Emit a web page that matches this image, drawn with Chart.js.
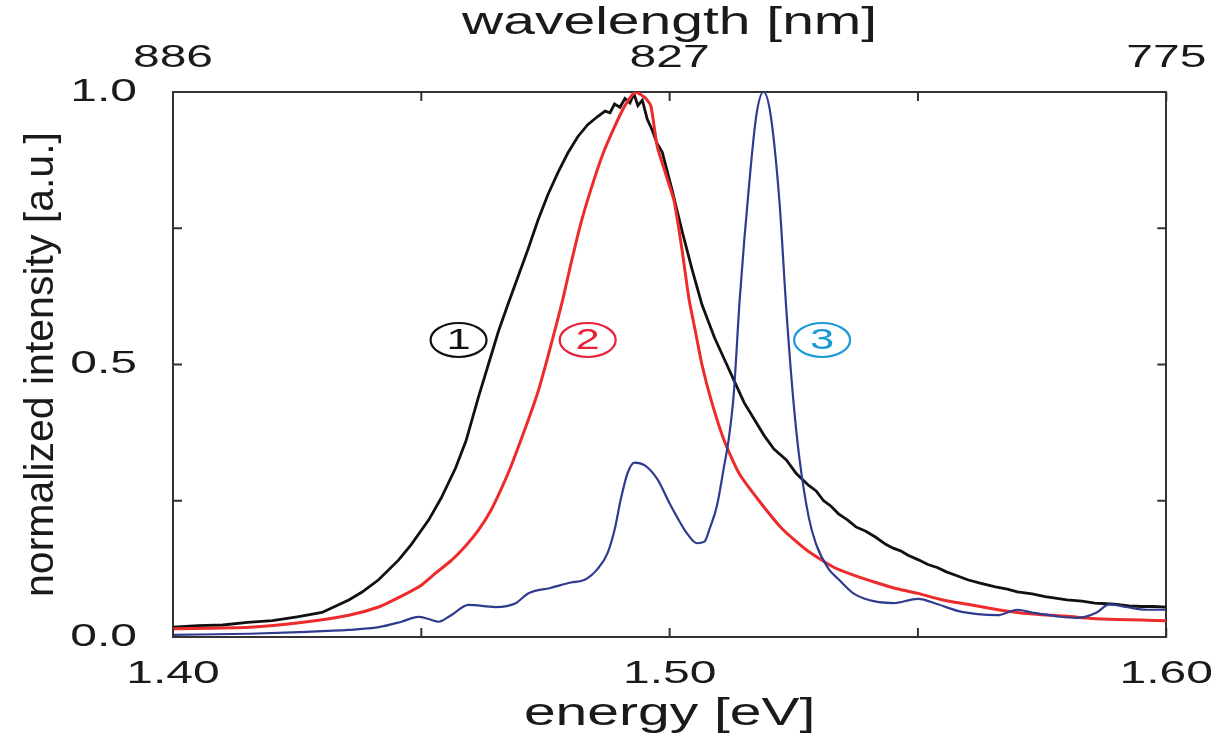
<!DOCTYPE html>
<html>
<head>
<meta charset="utf-8">
<script src="https://cdn.jsdelivr.net/npm/chart.js@4.4.1/dist/chart.umd.min.js"></script>
<style>
  html, body { margin: 0; padding: 0; background: #ffffff; }
  #wrap { width: 1231px; height: 738px; }
</style>
</head>
<body>
<div id="wrap"><canvas id="c" width="1231" height="738"></canvas></div>
<script>
// ---------------- data ----------------
// curve 1 (black)
const energy1 = [1.400,1.405,1.410,1.415,1.420,1.425,1.430,1.4354,1.438,1.4414,1.4454,1.448,1.4515,1.454,1.4569,1.459,1.4615,1.4635,1.4655,1.4675,1.4695,1.4715,1.4735,1.4755,1.4775,1.4795,1.4815,1.4835,1.4855,1.4870,1.4880,1.4889,1.4900,1.4910,1.4920,1.4928,1.4936,1.4945,1.4955,1.4965,1.4975,1.4985,1.5005,1.5025,1.5045,1.5065,1.5090,1.5115,1.5130,1.5150,1.5170,1.5190,1.5210,1.5235,1.5255,1.5280,1.5295,1.5310,1.5325,1.5340,1.5358,1.5375,1.5395,1.5415,1.5435,1.5450,1.5465,1.5480,1.5500,1.5520,1.5540,1.5556,1.5580,1.5600,1.5625,1.5656,1.5680,1.5700,1.5730,1.5756,1.5780,1.5800,1.5830,1.5856,1.5880,1.5900,1.5925,1.5950,1.5975,1.6000];
const intensity1 = [0.018,0.021,0.022,0.027,0.030,0.037,0.045,0.068,0.082,0.105,0.141,0.170,0.215,0.255,0.310,0.360,0.440,0.500,0.560,0.612,0.662,0.712,0.765,0.812,0.852,0.888,0.918,0.940,0.955,0.965,0.962,0.978,0.972,0.988,0.980,0.997,0.975,0.985,0.950,0.930,0.905,0.890,0.820,0.745,0.675,0.610,0.550,0.500,0.470,0.430,0.400,0.370,0.345,0.325,0.300,0.278,0.268,0.250,0.240,0.226,0.215,0.202,0.194,0.183,0.170,0.163,0.158,0.150,0.142,0.133,0.127,0.120,0.112,0.105,0.099,0.092,0.088,0.083,0.079,0.074,0.071,0.068,0.066,0.062,0.061,0.060,0.057,0.056,0.056,0.055];

// curve 2 (red)
const energy2 = [1.400,1.4154,1.4254,1.4354,1.4414,1.4460,1.4500,1.4530,1.4560,1.4590,1.4615,1.4640,1.4660,1.4680,1.4700,1.4720,1.4735,1.4752,1.4769,1.4785,1.4800,1.4820,1.4841,1.4865,1.4889,1.4910,1.4931,1.4950,1.4962,1.4975,1.4992,1.5009,1.5025,1.5039,1.5052,1.5065,1.5085,1.5110,1.5140,1.5180,1.5225,1.5275,1.5330,1.5375,1.5415,1.5460,1.5500,1.5550,1.5600,1.5650,1.5700,1.5750,1.5800,1.5850,1.5900,1.5950,1.6000];
const intensity2 = [0.015,0.018,0.026,0.040,0.055,0.075,0.095,0.118,0.140,0.168,0.196,0.232,0.270,0.312,0.360,0.410,0.450,0.505,0.563,0.620,0.680,0.755,0.820,0.885,0.936,0.975,1.000,0.990,0.975,0.900,0.850,0.800,0.710,0.620,0.560,0.500,0.430,0.360,0.300,0.250,0.200,0.160,0.128,0.112,0.100,0.088,0.080,0.068,0.060,0.052,0.045,0.041,0.038,0.034,0.032,0.031,0.030];

// curve 3 (blue)
const energy3 = [1.400,1.4154,1.4254,1.4354,1.4414,1.4460,1.4494,1.4515,1.4535,1.4560,1.4595,1.4649,1.4690,1.4715,1.4760,1.4801,1.4829,1.4855,1.4875,1.4890,1.4901,1.4915,1.4929,1.4950,1.4975,1.5000,1.5015,1.5035,1.5055,1.5070,1.5081,1.5095,1.5109,1.5120,1.5129,1.5141,1.5161,1.5175,1.5189,1.5203,1.5221,1.5235,1.5249,1.5261,1.5280,1.5295,1.5320,1.5341,1.5370,1.5401,1.5450,1.5500,1.5540,1.5580,1.5620,1.5660,1.5700,1.5730,1.5780,1.5820,1.5860,1.5885,1.5920,1.5960,1.6000];
const intensity3 = [0.004,0.006,0.009,0.013,0.018,0.028,0.037,0.033,0.028,0.040,0.059,0.055,0.062,0.080,0.090,0.100,0.105,0.125,0.154,0.200,0.250,0.300,0.320,0.315,0.290,0.245,0.220,0.190,0.172,0.175,0.200,0.240,0.310,0.370,0.445,0.618,0.840,0.960,1.000,0.960,0.800,0.600,0.435,0.330,0.220,0.170,0.125,0.105,0.080,0.068,0.062,0.070,0.060,0.048,0.042,0.040,0.050,0.045,0.038,0.035,0.045,0.060,0.055,0.050,0.050];

// axis ticks / labels
const energyLabelValues = [1.40, 1.50, 1.60];
const energyLabels = ['1.40', '1.50', '1.60'];
const wavelengthLabels = ['886', '827', '775'];
const intensityLabelValues = [0.0, 0.5, 1.0];
const intensityLabels = ['0.0', '0.5', '1.0'];

// circled curve markers
const markerEnergy = [1.4575, 1.4835, 1.5307];
const markerIntensity = [0.545, 0.545, 0.545];
const markerText = ['1', '2', '3'];
const markerColor = ['#111111', '#e8203a', '#1a9ad6'];

// --------------- text stretch (reference text is horizontally wide) ---------------
const STRETCH = 1.5;
let stretchOn = true;
const canvas = document.getElementById('c');
const ctx2d = canvas.getContext('2d');
const proto = CanvasRenderingContext2D.prototype;
ctx2d.fillText = function (text, x, y) {
  if (!stretchOn) { return proto.fillText.call(this, text, x, y); }
  this.save();
  this.translate(x, y);
  this.scale(STRETCH, 1);
  proto.fillText.call(this, text, 0, 0);
  this.restore();
};
ctx2d.measureText = function (text) {
  const m = proto.measureText.call(this, text);
  if (!stretchOn) { return m; }
  return {
    width: m.width * STRETCH,
    actualBoundingBoxAscent: m.actualBoundingBoxAscent,
    actualBoundingBoxDescent: m.actualBoundingBoxDescent,
    actualBoundingBoxLeft: m.actualBoundingBoxLeft * STRETCH,
    actualBoundingBoxRight: m.actualBoundingBoxRight * STRETCH
  };
};

// --------------- chart ----------------
const FONT = "'Liberation Sans', Arial, sans-serif";
Chart.defaults.font.family = FONT;
Chart.defaults.color = '#1a1a1a';

function toXY(xs, ys) { return xs.map((x, i) => ({ x: x, y: ys[i] })); }
function findLabel(values, labels, v) {
  const i = values.findIndex(e => Math.abs(e - v) < 1e-6);
  return i >= 0 ? labels[i] : '';
}

const innerTicks = {
  id: 'innerTicks',
  afterDatasetsDraw(chart) {
    const ctx = chart.ctx;
    const a = chart.chartArea;
    const len = 9;
    ctx.save();
    ctx.strokeStyle = '#333333';
    ctx.lineWidth = 2;
    ctx.beginPath();
    chart.scales.x.ticks.forEach(t => {
      const px = chart.scales.x.getPixelForValue(t.value);
      ctx.moveTo(px, a.bottom); ctx.lineTo(px, a.bottom - len);
    });
    chart.scales.x2.ticks.forEach(t => {
      const px = chart.scales.x2.getPixelForValue(t.value);
      ctx.moveTo(px, a.top); ctx.lineTo(px, a.top + len);
    });
    chart.scales.y.ticks.forEach(t => {
      const py = chart.scales.y.getPixelForValue(t.value);
      ctx.moveTo(a.left, py); ctx.lineTo(a.left + len, py);
    });
    chart.scales.y2.ticks.forEach(t => {
      const py = chart.scales.y2.getPixelForValue(t.value);
      ctx.moveTo(a.right, py); ctx.lineTo(a.right - len, py);
    });
    ctx.stroke();
    ctx.restore();
  }
};

const markers = {
  id: 'markers',
  afterDatasetsDraw(chart) {
    const ctx = chart.ctx;
    const xs = chart.scales.x, ys = chart.scales.y;
    ctx.save();
    markerText.forEach((t, i) => {
      const cx = xs.getPixelForValue(markerEnergy[i]);
      const cy = ys.getPixelForValue(markerIntensity[i]);
      ctx.strokeStyle = markerColor[i];
      ctx.fillStyle = markerColor[i];
      ctx.lineWidth = 2.2;
      ctx.beginPath();
      ctx.ellipse(cx, cy, 28, 17, 0, 0, Math.PI * 2);
      ctx.stroke();
      ctx.font = "29px " + FONT;
      ctx.textAlign = 'center';
      ctx.textBaseline = 'middle';
      ctx.fillText(t, cx, cy + 1);
    });
    ctx.restore();
  }
};

const tickFont = { size: 32 };
const axisBorder = { display: true, color: '#333333', width: 2 };

const chart = new Chart(ctx2d, {
  type: 'line',
  data: {
    datasets: [
      { label: '1', data: toXY(energy1, intensity1), borderColor: '#111111', borderWidth: 2.8, pointRadius: 0, tension: 0, order: 2 },
      { label: '2', data: toXY(energy2, intensity2), borderColor: '#ee2b2b', borderWidth: 3, pointRadius: 0, tension: 0.2, order: 1 },
      { label: '3', data: toXY(energy3, intensity3), borderColor: '#2f3b8e', borderWidth: 2.2, pointRadius: 0, tension: 0.4, cubicInterpolationMode: 'monotone', order: 0 }
    ]
  },
  options: {
    responsive: false,
    animation: false,
    layout: { padding: 0 },
    plugins: { legend: { display: false }, tooltip: { enabled: false } },
    scales: {
      x: {
        type: 'linear', position: 'bottom', min: 1.40, max: 1.60,
        grid: { display: false, drawTicks: false },
        border: axisBorder,
        ticks: { stepSize: 0.05, autoSkip: false, maxRotation: 0, font: tickFont, padding: 18, color: '#1a1a1a',
          callback: v => findLabel(energyLabelValues, energyLabels, v) },
        title: { display: true, text: 'energy [eV]', font: { size: 38 }, padding: { top: 0, bottom: 1 }, color: '#1a1a1a' },
        afterFit: s => { s.height = 101; }
      },
      x2: {
        type: 'linear', position: 'top', min: 1.40, max: 1.60,
        grid: { display: false, drawTicks: false },
        border: axisBorder,
        ticks: { stepSize: 0.05, autoSkip: false, maxRotation: 0, font: tickFont, padding: 15, color: '#1a1a1a',
          callback: v => findLabel(energyLabelValues, wavelengthLabels, v) },
        title: { display: true, text: 'wavelength [nm]', font: { size: 38 }, padding: { top: 1, bottom: 0 }, color: '#1a1a1a' },
        afterFit: s => { s.height = 92; }
      },
      y: {
        type: 'linear', position: 'left', min: 0, max: 1,
        grid: { display: false, drawTicks: false },
        border: axisBorder,
        ticks: { stepSize: 0.25, autoSkip: false, font: tickFont, padding: 36, color: '#1a1a1a',
          callback: v => findLabel(intensityLabelValues, intensityLabels, v) },
        title: { display: true, text: 'normalized intensity [a.u.]', font: { size: 41 }, padding: { top: 17, bottom: 0 }, color: '#1a1a1a' },
        afterFit: s => { s.width = 173; }
      },
      y2: {
        type: 'linear', position: 'right', min: 0, max: 1,
        grid: { display: false, drawTicks: false },
        border: axisBorder,
        ticks: { stepSize: 0.25, display: false },
        afterFit: s => { s.width = 59; }
      }
    }
  },
  plugins: [innerTicks, markers]
});

// the rotated y title is not stretched in the reference
const yScale = chart.scales.y;
const origDrawTitle = yScale.drawTitle;
yScale.drawTitle = function () {
  stretchOn = false;
  origDrawTitle.apply(this, arguments);
  stretchOn = true;
};
chart.draw();
</script>
</body>
</html>
